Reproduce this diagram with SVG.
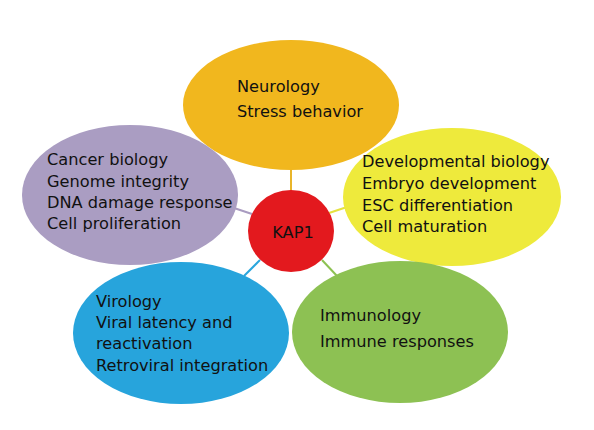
<svg xmlns="http://www.w3.org/2000/svg" width="594" height="430" viewBox="0 0 594 430">
<style>
text{font-family:"DejaVu Sans","Noto Sans",sans-serif;font-size:16.2px;fill:#111}
.c{stroke-width:2;fill:none}
</style>
<rect width="594" height="430" fill="#fff"/>
<g id="connectors">
<line class="c" x1="291" y1="165" x2="291" y2="194" stroke="#E9B52A"/>
<line class="c" x1="234" y1="208" x2="252" y2="214" stroke="#A99BC0"/>
<line class="c" x1="329" y1="213" x2="347" y2="207" stroke="#E5E240"/>
<line class="c" x1="244" y1="276" x2="260" y2="260" stroke="#2AA6DD"/>
<line class="c" x1="322" y1="260" x2="337" y2="276" stroke="#8DC152"/>
</g>
<g id="neurology">
<ellipse cx="291" cy="105" rx="108" ry="65" fill="#F1B71E"/>
<text x="237" y="92">Neurology</text>
<text x="237" y="117">Stress behavior</text>
</g>
<g id="cancer">
<ellipse cx="130" cy="195" rx="108" ry="70" fill="#AA9DC2"/>
<text x="47" y="165">Cancer biology</text>
<text x="47" y="187">Genome integrity</text>
<text x="47" y="208">DNA damage response</text>
<text x="47" y="229">Cell proliferation</text>
</g>
<g id="developmental">
<ellipse cx="452" cy="197" rx="109" ry="69" fill="#EEEA3C"/>
<text x="362" y="167">Developmental biology</text>
<text x="362" y="189">Embryo development</text>
<text x="362" y="211">ESC differentiation</text>
<text x="362" y="232">Cell maturation</text>
</g>
<g id="virology">
<ellipse cx="181" cy="333" rx="108" ry="71" fill="#27A4DC"/>
<text x="96" y="307">Virology</text>
<text x="96" y="328">Viral latency and</text>
<text x="96" y="349">reactivation</text>
<text x="96" y="371">Retroviral integration</text>
</g>
<g id="immunology">
<ellipse cx="400" cy="332" rx="108" ry="71" fill="#8DC153"/>
<text x="320" y="321">Immunology</text>
<text x="320" y="347">Immune responses</text>
</g>
<g id="kap1">
<ellipse cx="291" cy="231" rx="43" ry="41" fill="#E3191E"/>
<text x="293" y="238" text-anchor="middle">KAP1</text>
</g>
</svg>
